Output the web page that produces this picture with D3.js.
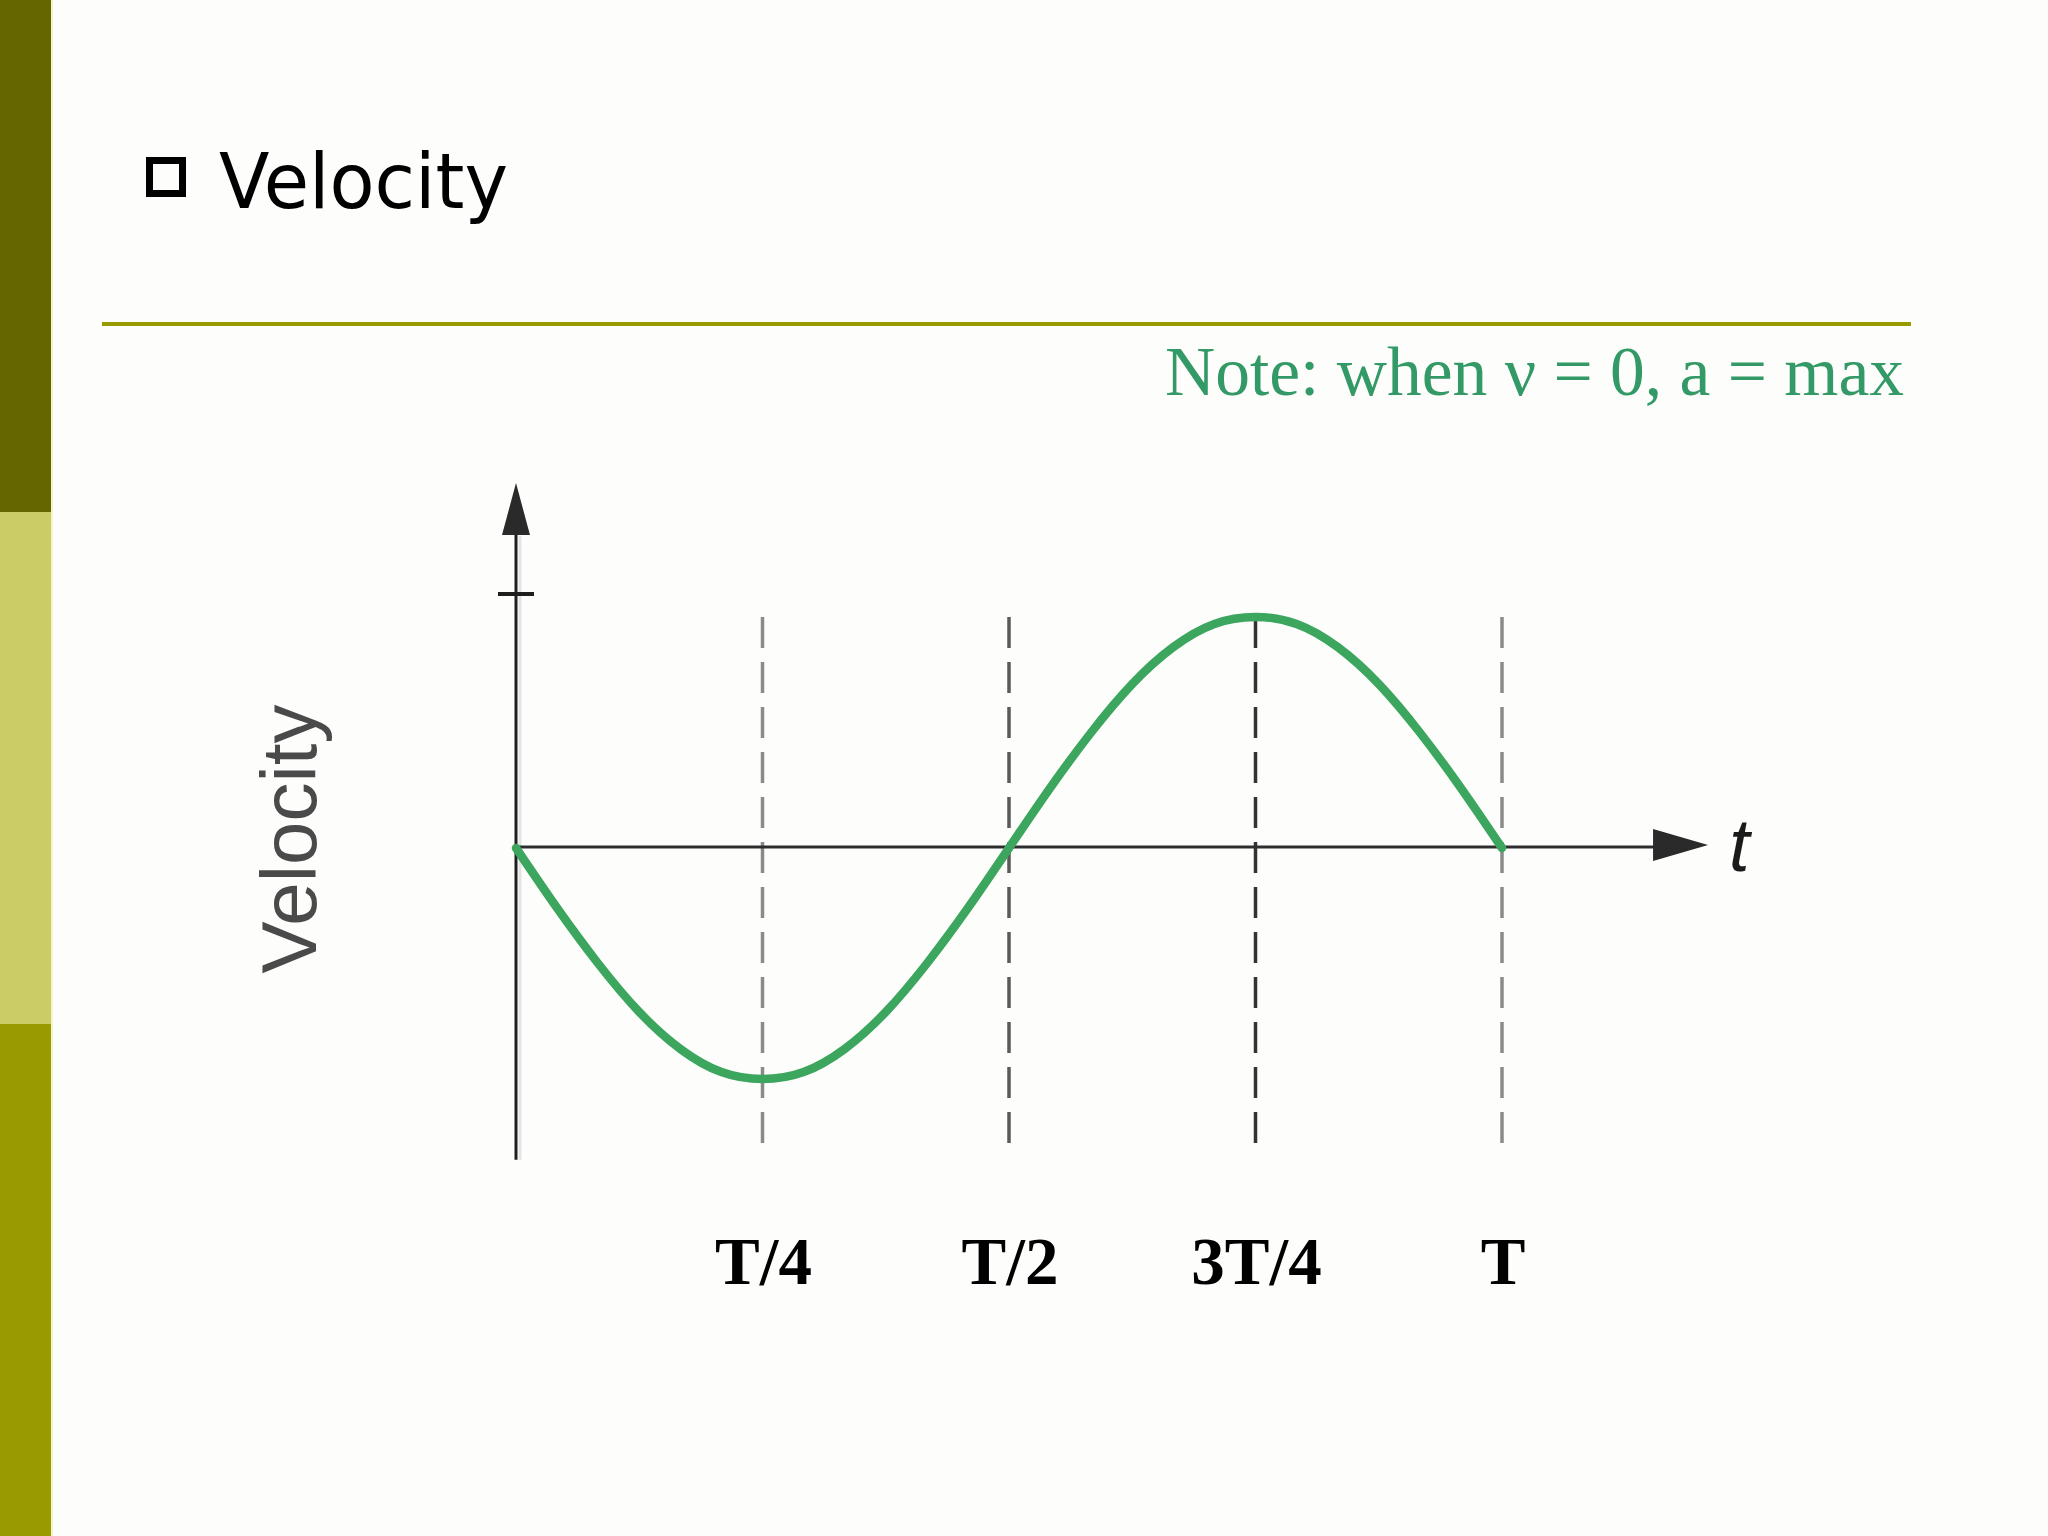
<!DOCTYPE html>
<html>
<head>
<meta charset="utf-8">
<script src="https://cdn.jsdelivr.net/npm/d3@7"></script>
<style>
  html, body { margin: 0; padding: 0; background: #fdfefc; }
  svg { display: block; }
</style>
</head>
<body>
<svg id="chart" width="2048" height="1536"></svg>
<script>
// ---- data ----
const titleText = "Velocity";
const noteText = "Note: when \u03BD = 0, a = max";
const yAxisLabel = "Velocity";
const xAxisLabel = "t";
// sample times (fraction of period T)
const times = [0, 0.0417, 0.0833, 0.125, 0.1667, 0.2083, 0.25, 0.2917, 0.3333, 0.375,
               0.4167, 0.4583, 0.5, 0.5417, 0.5833, 0.625, 0.6667, 0.7083, 0.75,
               0.7917, 0.8333, 0.875, 0.9167, 0.9583, 1];
// velocity (relative to max)
const velocity = [0, -0.26, -0.5, -0.71, -0.87, -0.97, -1, -0.97, -0.87, -0.71,
                  -0.5, -0.26, 0, 0.26, 0.5, 0.71, 0.87, 0.97, 1,
                  0.97, 0.87, 0.71, 0.5, 0.26, 0];
const tickTimes = [0.25, 0.5, 0.75, 1];
const tickLabels = ["T/4", "T/2", "3T/4", "T"];
const yTickValues = [1.1];

// ---- drawing ----
const svg = d3.select("#chart");

// left decorative bar
const barBands = [
  {y0: 0, y1: 512, c: "#666600"},
  {y0: 512, y1: 1024, c: "#cccc66"},
  {y0: 1024, y1: 1536, c: "#999900"}
];
svg.selectAll("rect.band").data(barBands).join("rect")
  .attr("class", "band")
  .attr("x", 0).attr("y", d => d.y0)
  .attr("width", 51).attr("height", d => d.y1 - d.y0)
  .attr("fill", d => d.c);
svg.append("rect").attr("x", 51).attr("y", 0).attr("width", 2).attr("height", 1536)
  .attr("fill", "#f4f4c8");

// title bullet and text
svg.append("rect").attr("x", 149.5).attr("y", 160.5).attr("width", 33).attr("height", 33)
  .attr("fill", "none").attr("stroke", "#000").attr("stroke-width", 7);
svg.append("text").attr("x", 219).attr("y", 208)
  .attr("font-family", "'DejaVu Sans', Verdana, sans-serif")
  .attr("font-size", 76)
  .attr("textLength", 289).attr("lengthAdjust", "spacingAndGlyphs")
  .attr("fill", "#000").text(titleText);

// rule
svg.append("line").attr("x1", 102).attr("x2", 1911).attr("y1", 324).attr("y2", 324)
  .attr("stroke", "#999900").attr("stroke-width", 4);

// note
svg.append("text").attr("x", 1904).attr("y", 395).attr("text-anchor", "end")
  .attr("font-family", "'Liberation Serif', 'Times New Roman', serif")
  .attr("font-size", 69.5).attr("fill", "#339966").text(noteText);

// scales
const x = d3.scaleLinear().domain([0, 1]).range([516, 1502]);
const y = d3.scaleLinear().domain([-1, 1]).range([1079, 617]);

const g = svg.append("g");

// dashed guide lines
const dashColors = ["#8a8a8a", "#5a5a5a", "#333", "#8a8a8a"];
g.selectAll("line.guide").data(tickTimes).join("line")
  .attr("class", "guide")
  .attr("x1", d => x(d)).attr("x2", d => x(d))
  .attr("y1", y(1)).attr("y2", y(-1.29))
  .attr("stroke", (d, i) => dashColors[i])
  .attr("stroke-width", 3.5)
  .attr("stroke-dasharray", "31 14");

// y axis
const y0px = y(0);
g.append("line").attr("x1", x(0) + 4).attr("x2", x(0) + 4)
  .attr("y1", y(1.35)).attr("y2", y(-1.35))
  .attr("stroke", "#e4e4e4").attr("stroke-width", 3);
g.append("line").attr("x1", x(0)).attr("x2", x(0))
  .attr("y1", y(1.4)).attr("y2", y(-1.35))
  .attr("stroke", "#1e1e1e").attr("stroke-width", 3);
const yTip = y(1.58);
g.append("path")
  .attr("d", `M${x(0)},${yTip} L${x(0) - 14},${yTip + 52} L${x(0) + 14},${yTip + 52} Z`)
  .attr("fill", "#2a2a2a");
g.selectAll("line.ytick").data(yTickValues).join("line")
  .attr("class", "ytick")
  .attr("x1", x(0) - 18).attr("x2", x(0) + 18)
  .attr("y1", d => y(d)).attr("y2", d => y(d))
  .attr("stroke", "#1e1e1e").attr("stroke-width", 4);

// x axis
const xTip = x(1.209);
g.append("line").attr("x1", x(0)).attr("x2", xTip - 50)
  .attr("y1", y0px - 1).attr("y2", y0px - 1)
  .attr("stroke", "#2e2e2e").attr("stroke-width", 3);
g.append("path")
  .attr("d", `M${xTip},${y0px - 3} L${xTip - 55},${y0px - 19} L${xTip - 55},${y0px + 13} Z`)
  .attr("fill", "#2a2a2a");
g.append("text").attr("x", 1729).attr("y", 871)
  .attr("font-family", "'Liberation Sans', Arial, sans-serif")
  .attr("font-style", "italic").attr("font-size", 74)
  .attr("fill", "#1a1a1a").text(xAxisLabel);

// y axis label
g.append("text")
  .attr("transform", `translate(316,839) rotate(-90)`)
  .attr("text-anchor", "middle")
  .attr("font-family", "'Liberation Sans', Arial, sans-serif")
  .attr("font-size", 78).attr("fill", "#4a4a4a")
  .text(yAxisLabel);

// curve
const pts = times.map((t, i) => [t, velocity[i]]);
const line = d3.line().x(d => x(d[0])).y(d => y(d[1])).curve(d3.curveNatural);
g.append("path").datum(pts).attr("d", line)
  .attr("fill", "none").attr("stroke", "#3ca55e").attr("stroke-width", 8.5)
  .attr("stroke-linecap", "round");

// tick labels
svg.selectAll("text.tl").data(tickTimes).join("text")
  .attr("class", "tl")
  .attr("x", d => x(d) + 1).attr("y", 1284)
  .attr("text-anchor", "middle")
  .attr("font-family", "'Liberation Serif', 'Times New Roman', serif")
  .attr("font-weight", "bold").attr("font-size", 67)
  .attr("fill", "#000")
  .text((d, i) => tickLabels[i]);
</script>
</body>
</html>
